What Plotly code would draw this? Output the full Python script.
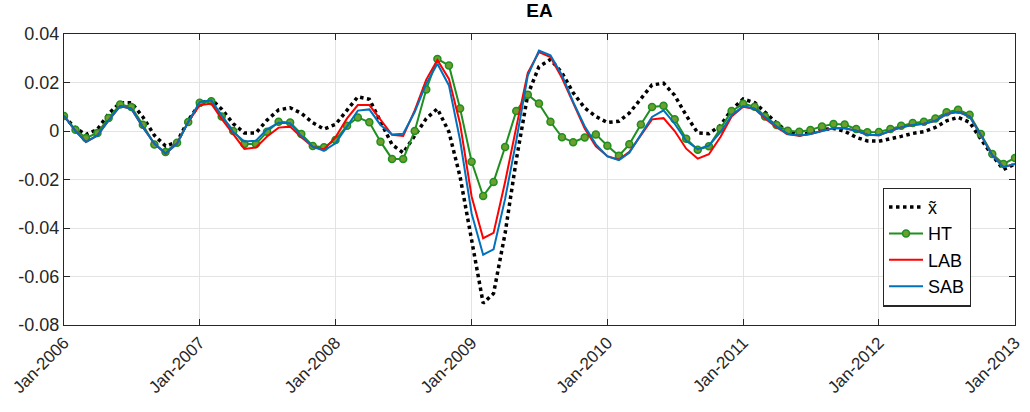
import pandas as pd
import plotly.graph_objects as go

# Monthly dates Jan-2006 .. Jan-2013
dates = pd.date_range("2006-01-01", "2013-01-01", freq="MS")

x_tilde = [0.0060, 0.0012, -0.0015, 0.0007, 0.0071, 0.0117, 0.0117, 0.0058, -0.0018, -0.0062,
           -0.0045, 0.0044, 0.0113, 0.0131, 0.0090, 0.0030, -0.0008, -0.0008, 0.0045, 0.0087,
           0.0096, 0.0073, 0.0034, 0.0008, 0.0027, 0.0087, 0.0141, 0.0131, 0.0040, -0.0056,
           -0.0090, -0.0022, 0.0051, 0.0092, -0.0004, -0.0189, -0.0450, -0.0710, -0.0670, -0.0422,
           -0.0120, 0.0150, 0.0265, 0.0295, 0.0240, 0.0158, 0.0095, 0.0060, 0.0035, 0.0040,
           0.0074, 0.0133, 0.0190, 0.0197, 0.0147, 0.0064, -0.0008, -0.0011, 0.0023, 0.0088,
           0.0132, 0.0117, 0.0077, 0.0033, -0.0005, -0.0016, -0.0008, 0.0005, 0.0011, -0.0001,
           -0.0026, -0.0041, -0.0042, -0.0033, -0.0022, -0.0010, -0.0003, 0.0015, 0.0042, 0.0056,
           0.0036, -0.0033, -0.0101, -0.0159, -0.0136]

ht = [0.0062, 0.0005, -0.0029, -0.0008, 0.0054, 0.0109, 0.0099, 0.0026, -0.0056, -0.0087,
      -0.0048, 0.0037, 0.0116, 0.0123, 0.0060, 0.0000, -0.0054, -0.0054, -0.0003, 0.0038,
      0.0035, -0.0012, -0.0062, -0.0067, -0.0037, 0.0022, 0.0056, 0.0036, -0.0044, -0.0115,
      -0.0115, 0.0000, 0.0171, 0.0297, 0.0270, 0.0093, -0.0127, -0.0268, -0.0210, -0.0066,
      0.0082, 0.0150, 0.0113, 0.0038, -0.0026, -0.0046, -0.0027, -0.0014, -0.0061, -0.0102,
      -0.0055, 0.0027, 0.0099, 0.0104, 0.0048, -0.0032, -0.0077, -0.0063, 0.0010, 0.0082,
      0.0112, 0.0100, 0.0060, 0.0025, 0.0001, -0.0003, 0.0004, 0.0019, 0.0029, 0.0027,
      0.0008, -0.0005, -0.0004, 0.0008, 0.0022, 0.0033, 0.0038, 0.0052, 0.0077, 0.0088,
      0.0067, -0.0012, -0.0095, -0.0136, -0.0111]

lab = [0.0062, 0.0000, -0.0045, -0.0018, 0.0044, 0.0103, 0.0092, 0.0016, -0.0052, -0.0093,
       -0.0052, 0.0037, 0.0106, 0.0113, 0.0050, -0.0015, -0.0074, -0.0068, -0.0023, 0.0014,
       0.0018, -0.0026, -0.0065, -0.0076, -0.0026, 0.0052, 0.0107, 0.0107, 0.0045, -0.0016,
       -0.0020, 0.0085, 0.0212, 0.0293, 0.0215, 0.0030, -0.0270, -0.0442, -0.0420, -0.0210,
       0.0015, 0.0240, 0.0325, 0.0305, 0.0218, 0.0112, 0.0010, -0.0063, -0.0104, -0.0118,
       -0.0086, -0.0018, 0.0048, 0.0053, 0.0000, -0.0073, -0.0114, -0.0096, -0.0025, 0.0060,
       0.0100, 0.0091, 0.0052, 0.0015, -0.0014, -0.0020, -0.0012, 0.0001, 0.0011, 0.0011,
       0.0001, -0.0015, -0.0017, 0.0000, 0.0015, 0.0025, 0.0030, 0.0042, 0.0070, 0.0079,
       0.0060, -0.0016, -0.0101, -0.0149, -0.0136]

sab = [0.0062, 0.0000, -0.0045, -0.0018, 0.0044, 0.0103, 0.0092, 0.0016, -0.0052, -0.0093,
       -0.0052, 0.0037, 0.0120, 0.0126, 0.0065, -0.0004, -0.0043, -0.0040, 0.0007, 0.0034,
       0.0032, -0.0020, -0.0065, -0.0081, -0.0051, 0.0018, 0.0084, 0.0089, 0.0025, -0.0014,
       -0.0011, 0.0078, 0.0195, 0.0277, 0.0188, -0.0038, -0.0340, -0.0510, -0.0488, -0.0280,
       -0.0040, 0.0229, 0.0332, 0.0312, 0.0230, 0.0120, 0.0020, -0.0055, -0.0105, -0.0120,
       -0.0090, -0.0015, 0.0058, 0.0085, 0.0030, -0.0040, -0.0075, -0.0060, -0.0005, 0.0065,
       0.0103, 0.0092, 0.0056, 0.0019, -0.0012, -0.0019, -0.0012, 0.0001, 0.0011, 0.0011,
       0.0001, -0.0015, -0.0017, 0.0001, 0.0015, 0.0025, 0.0030, 0.0042, 0.0070, 0.0079,
       0.0060, -0.0016, -0.0101, -0.0149, -0.0136]

x_tickvals = ["2006-01-01", "2007-01-01", "2008-01-01", "2009-01-01",
              "2010-01-01", "2011-01-01", "2012-01-01", "2013-01-01"]
x_ticktext = ["Jan-2006", "Jan-2007", "Jan-2008", "Jan-2009",
              "Jan-2010", "Jan-2011", "Jan-2012", "Jan-2013"]
y_tickvals = [-0.08, -0.06, -0.04, -0.02, 0, 0.02, 0.04]
y_ticktext = ["-0.08", "-0.06", "-0.04", "-0.02", "0", "0.02", "0.04"]

FONT = "Liberation Sans, Arial, Helvetica, sans-serif"
AX = "#262626"

fig = go.Figure()
fig.add_trace(go.Scatter(x=dates, y=x_tilde, mode="lines", name="x\u0303",
                         line=dict(color="black", width=3.5, dash="dot")))
fig.add_trace(go.Scatter(x=dates, y=ht, mode="lines+markers", name="HT",
                         line=dict(color="#1f8f1f", width=2),
                         marker=dict(symbol="circle", size=7, color="#6e9e2e",
                                     line=dict(color="#1f8f1f", width=1.5))))
fig.add_trace(go.Scatter(x=dates, y=lab, mode="lines", name="LAB",
                         line=dict(color="#ff0000", width=2)))
fig.add_trace(go.Scatter(x=dates, y=sab, mode="lines", name="SAB",
                         line=dict(color="#0072bd", width=2)))

fig.update_layout(
    width=1030, height=412,
    margin=dict(l=64, r=15, t=34, b=87, autoexpand=False),
    paper_bgcolor="white", plot_bgcolor="white",
    font=dict(family=FONT, size=17, color=AX),
    title=dict(text="<b>EA</b>", x=0.5, xanchor="center", xref="paper",
               y=0.99, yanchor="top", font=dict(family=FONT, size=19, color="black")),
    showlegend=True,
    legend=dict(x=0.861, y=0.472, xanchor="left", yanchor="top",
                bgcolor="white", bordercolor=AX, borderwidth=1.2,
                font=dict(family=FONT, size=18, color="black"),
                tracegroupgap=0, itemwidth=34),
)
fig.update_xaxes(
    type="date", range=["2006-01-01", "2013-01-01"], automargin=False,
    tickvals=x_tickvals, ticktext=x_ticktext, tickangle=-45,
    tickfont=dict(family=FONT, size=17, color=AX),
    showgrid=True, gridcolor="#e3e3e3", gridwidth=1.2,
    showline=True, linecolor=AX, linewidth=1.2, mirror="ticks",
    ticks="inside", ticklen=6, tickcolor=AX, zeroline=False,
)
fig.update_yaxes(
    range=[-0.08, 0.04], automargin=False, tickvals=y_tickvals, ticktext=y_ticktext,
    tickfont=dict(family=FONT, size=18, color=AX),
    showgrid=True, gridcolor="#e3e3e3", gridwidth=1.2,
    showline=True, linecolor=AX, linewidth=1.2, mirror="ticks",
    ticks="inside", ticklen=6, tickcolor=AX, zeroline=False,
)

fig.write_html(
    "out.html",
    config={"displayModeBar": False},
    post_script="document.body.style.margin='0px';document.body.style.padding='0px';"
                "document.documentElement.style.overflow='hidden';",
)
